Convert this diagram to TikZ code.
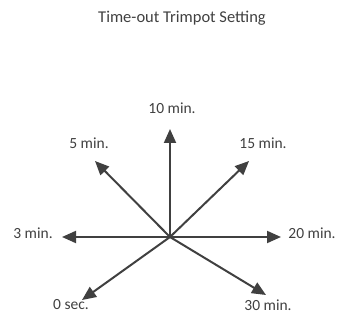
\documentclass[tikz,border=0pt]{standalone}
\usepackage{fontspec}
\setmainfont{Carlito}
\usetikzlibrary{arrows.meta}
\definecolor{potgray}{HTML}{404040}
\begin{document}
\begin{tikzpicture}[x=1pt, y=-1pt, font=\fontsize{15.5}{18}\selectfont, every node/.style={text=potgray, inner sep=0pt}, pointer/.style={draw=potgray, line width=2pt, -{Triangle[length=14pt, width=12pt]}}]
        \useasboundingbox (0, 0) rectangle (340, 320);
        \node (title) at (182, 18) {\fontsize{16.5}{19}\selectfont Time-out Trimpot Setting};
        \coordinate (hub) at (170, 237);
        \coordinate (t10) at (170, 129);
        \coordinate (t5) at (95, 161);
        \coordinate (t15) at (249, 161);
        \coordinate (t3) at (62, 237);
        \coordinate (t20) at (281, 237);
        \coordinate (t0) at (82, 300);
        \coordinate (t30) at (266, 295);
        \node (l10) at (172, 108) {10 min.};
        \node (l5) at (89, 143) {5 min.};
        \node (l15) at (263, 143) {15 min.};
        \node (l3) at (33, 233) {3 min.};
        \node (l20) at (312, 233) {20 min.};
        \node (l0) at (71, 305) {0 sec.};
        \node (l30) at (268, 305) {30 min.};
        \draw[pointer] (hub) -- (t10);
        \draw[pointer] (hub) -- (t5);
        \draw[pointer] (hub) -- (t15);
        \draw[pointer] (hub) -- (t3);
        \draw[pointer] (hub) -- (t20);
        \draw[pointer] (hub) -- (t0);
        \draw[pointer] (hub) -- (t30);
    \end{tikzpicture}
\end{document}
